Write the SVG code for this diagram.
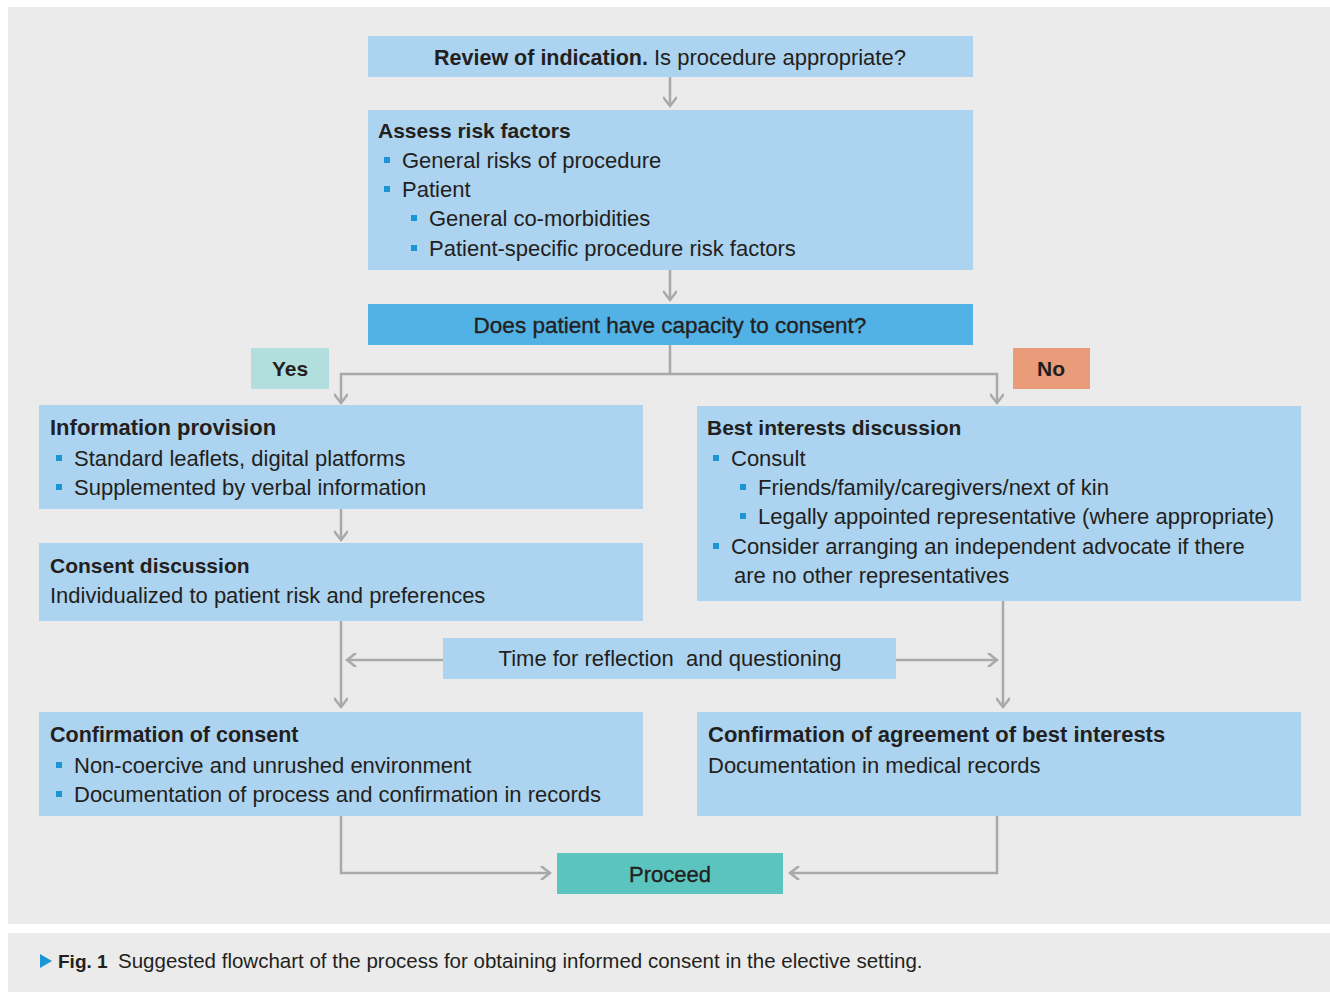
<svg xmlns="http://www.w3.org/2000/svg" width="1330" height="992" viewBox="0 0 1330 992">
<defs>
<style>
.bg{fill:#eaebea}
.lb{fill:#acd3ef}
.t{font-family:"Liberation Sans","DejaVu Sans",sans-serif;font-size:22px;fill:#231f20}
.b{font-weight:bold;font-size:21px}
.md{stroke:#231f20;stroke-width:0.35px}
.m{text-anchor:middle}
.bu{fill:#1a96d4}
.c{fill:none;stroke:#a7a9ac;stroke-width:2.5}
</style>
<marker id="ah" markerWidth="14" markerHeight="14" refX="12" refY="7" orient="auto" markerUnits="userSpaceOnUse">
<path d="M3,0 L12,7 L3,14" fill="none" stroke="#a7a9ac" stroke-width="2.5"/>
</marker>
</defs>
<rect x="0" y="0" width="1330" height="992" fill="#ffffff"/>
<rect class="bg" x="8" y="7" width="1322" height="917"/>
<rect class="bg" x="8" y="933" width="1322" height="59"/>

<g id="connectors">
<path class="c" d="M670,77 V106" marker-end="url(#ah)"/>
<path class="c" d="M670,270 V300" marker-end="url(#ah)"/>
<path class="c" d="M670,345 V374 H341 V403" marker-end="url(#ah)"/>
<path class="c" d="M670,374 H997 V403" marker-end="url(#ah)"/>
<path class="c" d="M341,509 V540" marker-end="url(#ah)"/>
<path class="c" d="M341,621 V707" marker-end="url(#ah)"/>
<path class="c" d="M1003,601 V707" marker-end="url(#ah)"/>
<path class="c" d="M443,660 H347" marker-end="url(#ah)"/>
<path class="c" d="M896,660 H997" marker-end="url(#ah)"/>
<path class="c" d="M341,816 V873 H550" marker-end="url(#ah)"/>
<path class="c" d="M997,816 V873 H790" marker-end="url(#ah)"/>
</g>

<g id="review">
<rect class="lb" x="368" y="36" width="605" height="41"/>
<text class="t m" x="670" y="65"><tspan class="b" style="font-size:21.5px">Review of indication.</tspan> Is procedure appropriate?</text>
</g>

<g id="assess">
<rect class="lb" x="368" y="110" width="605" height="160"/>
<text class="t b" x="378" y="138">Assess risk factors</text>
<rect class="bu" x="384" y="157" width="6" height="6"/>
<text class="t" x="402" y="168">General risks of procedure</text>
<rect class="bu" x="384" y="186" width="6" height="6"/>
<text class="t" x="402" y="197">Patient</text>
<rect class="bu" x="411" y="215" width="6" height="6"/>
<text class="t" x="429" y="226">General co-morbidities</text>
<rect class="bu" x="411" y="245" width="6" height="6"/>
<text class="t" x="429" y="256">Patient-specific procedure risk factors</text>
</g>

<g id="capacity">
<rect x="368" y="304" width="605" height="41" fill="#52b2e5"/>
<text class="t m md" x="670" y="333" style="font-size:22.5px">Does patient have capacity to consent?</text>
</g>

<g id="yes">
<rect x="251" y="348" width="78" height="41" fill="#b2dfdd"/>
<text class="t b m" x="290" y="376">Yes</text>
</g>

<g id="no">
<rect x="1013" y="348" width="77" height="41" fill="#e99b7a"/>
<text class="t b m" x="1051" y="376">No</text>
</g>

<g id="info">
<rect class="lb" x="39" y="405" width="604" height="104"/>
<text class="t b" x="50" y="435" style="font-size:22px">Information provision</text>
<rect class="bu" x="56" y="455" width="6" height="6"/>
<text class="t" x="74" y="466">Standard leaflets, digital platforms</text>
<rect class="bu" x="56" y="484" width="6" height="6"/>
<text class="t" x="74" y="495">Supplemented by verbal information</text>
</g>

<g id="consent">
<rect class="lb" x="39" y="543" width="604" height="78"/>
<text class="t b" x="50" y="573">Consent discussion</text>
<text class="t" x="50" y="603">Individualized to patient risk and preferences</text>
</g>

<g id="best">
<rect class="lb" x="697" y="406" width="604" height="195"/>
<text class="t b" x="707" y="435">Best interests discussion</text>
<rect class="bu" x="713" y="455" width="6" height="6"/>
<text class="t" x="731" y="466">Consult</text>
<rect class="bu" x="740" y="484" width="6" height="6"/>
<text class="t" x="758" y="495">Friends/family/caregivers/next of kin</text>
<rect class="bu" x="740" y="513" width="6" height="6"/>
<text class="t" x="758" y="524">Legally appointed representative (where appropriate)</text>
<rect class="bu" x="713" y="543" width="6" height="6"/>
<text class="t" x="731" y="554">Consider arranging an independent advocate if there</text>
<text class="t" x="734" y="583">are no other representatives</text>
</g>

<g id="time">
<rect class="lb" x="443" y="638" width="453" height="41"/>
<text class="t m" x="670" y="666" xml:space="preserve">Time for reflection  and questioning</text>
</g>

<g id="confirm">
<rect class="lb" x="39" y="712" width="604" height="104"/>
<text class="t b" x="50" y="742" style="font-size:21.5px">Confirmation of consent</text>
<rect class="bu" x="56" y="762" width="6" height="6"/>
<text class="t" x="74" y="773">Non-coercive and unrushed environment</text>
<rect class="bu" x="56" y="791" width="6" height="6"/>
<text class="t" x="74" y="802">Documentation of process and confirmation in records</text>
</g>

<g id="agreement">
<rect class="lb" x="697" y="712" width="604" height="104"/>
<text class="t b" x="708" y="742" style="font-size:22px">Confirmation of agreement of best interests</text>
<text class="t" x="708" y="773">Documentation in medical records</text>
</g>

<g id="proceed">
<rect x="557" y="853" width="226" height="41" fill="#5bc4bf"/>
<text class="t m md" x="670" y="882">Proceed</text>
</g>

<g id="caption">
<path d="M40,954 L52,961 L40,968 Z" fill="#1a96d4"/>
<text class="t" x="58" y="968" style="font-size:20.5px"><tspan class="b" style="font-size:19px">Fig. 1</tspan><tspan x="118">Suggested flowchart of the process for obtaining informed consent in the elective setting.</tspan></text>
</g>
</svg>
